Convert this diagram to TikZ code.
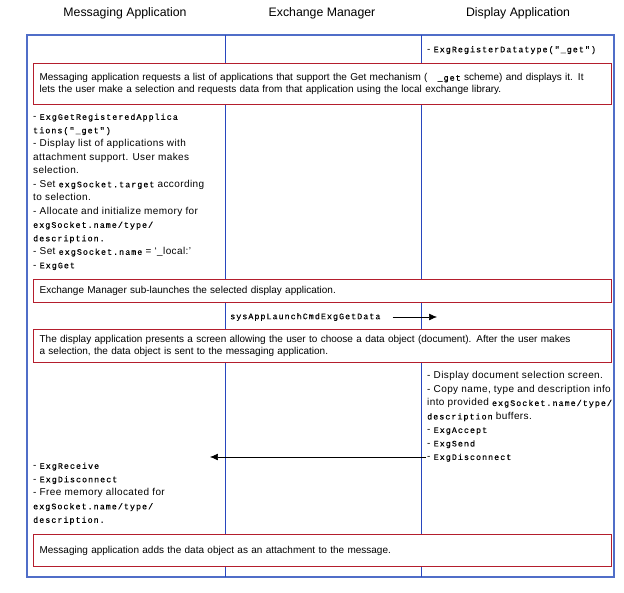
\documentclass[tikz,border=0pt]{standalone}
\usepackage{fontspec}
\setmainfont{Liberation Sans}
\setmonofont[LetterSpace=12,FakeBold=0.4]{Liberation Mono}
\usetikzlibrary{arrows.meta}
\definecolor{laneblue}{RGB}{40,70,190}
\definecolor{frameblue}{RGB}{80,110,200}
\definecolor{notered}{RGB}{180,30,45}
\newcommand{\cod}[1]{{\ttfamily\fontsize{8.4}{13.5}\selectfont #1}}
\tikzset{
  msgarrow/.style={-{Latex[length=2.8mm,width=2.4mm]}, semithick},
  header/.style={font=\fontsize{12.3}{14}\selectfont},
  lane/.style={draw=laneblue, line width=0.9pt},
  notebox/.style={draw=notered, line width=1.2pt, fill=white, anchor=north west, minimum width=578pt, text width=566pt, align=left, inner sep=5pt, font=\fontsize{10}{12}\selectfont},
  steptext/.style={anchor=north west, inner sep=0pt, align=left, font=\fontsize{10}{13.5}\selectfont\addfontfeature{LetterSpace=4}}
}
\begin{document}
\begin{tikzpicture}[x=1pt, y=-1pt]
  \useasboundingbox (0,0) rectangle (624,592);
  % lane headers
  \node[header] (hmsg) at (125,13) {Messaging Application};
  \node[header] (hexg) at (322,13) {Exchange Manager};
  \node[header] (hdsp) at (518,13) {Display Application};
  % frame and lanes
  \draw[draw=frameblue, line width=1.2pt] (27,35) rectangle (614,577);
  \draw[lane] (225,35) -- (225,577);
  \draw[lane] (421,35) -- (421,577);
  % step notes
  \node[notebox, minimum height=41pt] (note1) at (33,63) {Messaging application requests a list of applications that support the Get mechanism (\quad\cod{\_get} scheme) and displays it. It\\lets the user make a selection and requests data from that application using the local exchange library.};
  \node[notebox, minimum height=23pt] (note2) at (33,279) {Exchange Manager sub-launches the selected display application.};
  \node[notebox, minimum height=33pt] (note3) at (33,329) {The display application presents a screen allowing the user to choose a data object (document). After the user makes\\a selection, the data object is sent to the messaging application.};
  \node[notebox, minimum height=32pt] (note4) at (33,534) {Messaging application adds the data object as an attachment to the message.};
  % lane texts
  \node[steptext] (dsp1) at (427,46) {- \cod{ExgRegisterDatatype("\_get")}};
  \node[steptext] (msg1) at (33,113.5) {- \cod{ExgGetRegisteredApplica}\\\cod{tions("\_get")}\\- Display list of applications with\\attachment support. User makes\\selection.\\- Set \cod{exgSocket.target} according\\to selection.\\- Allocate and initialize memory for\\\cod{exgSocket.name/type/}\\\cod{description.}\\- Set \cod{exgSocket.name} = `\_local:'\\- \cod{ExgGet}};
  \node[steptext, anchor=west] (exg1) at (230,317) {\cod{sysAppLaunchCmdExgGetData}};
  \coordinate (exg1end) at (437,317);
  \node[steptext] (dsp2) at (427,371.5) {- Display document selection screen.\\- Copy name, type and description info\\into provided \cod{exgSocket.name/type/}\\\cod{description} buffers.\\- \cod{ExgAccept}\\- \cod{ExgSend}\\- \cod{ExgDisconnect}};
  \coordinate (dsp2start) at (426,457);
  \coordinate (msg2end) at (210,457);
  \node[steptext] (msg2) at (33,462.5) {- \cod{ExgReceive}\\- \cod{ExgDisconnect}\\- Free memory allocated for\\\cod{exgSocket.name/type/}\\\cod{description.}};
  % messages
  \draw[msgarrow] ([xshift=12pt]exg1.east) -- (exg1.east -| exg1end);
  \draw[msgarrow] (dsp2start) -- (msg2end);
\end{tikzpicture}
\end{document}
